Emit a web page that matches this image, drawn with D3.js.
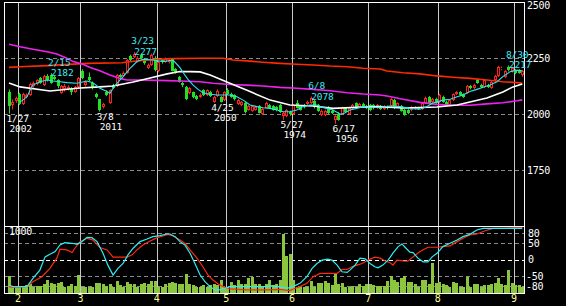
<!DOCTYPE html>
<html>
<head>
<meta charset="utf-8">
<script src="https://cdn.jsdelivr.net/npm/d3@7"></script>
<style>
  html, body { margin: 0; padding: 0; background: #000; }
  svg { display: block; }
  text { font-family: "DejaVu Sans Mono", monospace; font-size: 10px; letter-spacing: -0.3px; }
  text.note { font-size: 9.5px; letter-spacing: -0.1px; }
</style>
</head>
<body>
<div id="chart"></div>
<script>
// daily candles, 2022/1/27 .. 2022/9/5 (trading day index 0..148)
const opens = [2100,2040,2060,2090,2045,2075,2085,2125,2135,2160,2130,2170,2175,2165,2150,2095,2110,2110,2115,2100,2120,2190,2130,2165,2140,2090,2065,2030,2100,2050,2130,2125,2175,2170,2185,2260,2255,2235,2262,2245,2205,2220,2250,2190,2240,2232,2230,2245,2200,2165,2140,2120,2094,2098,2080,2077,2107,2085,2098,2052,2080,2075,2062,2105,2090,2083,2045,2040,2050,2020,2015,2020,2035,2000,2028,2040,2035,2030,2040,1990,1990,2010,1998,2050,2035,2040,2045,2050,2060,2040,1995,1995,2030,2015,1975,2002,2000,2025,2000,2028,2048,2032,2045,2035,2040,2040,2028,2035,2022,2032,2035,2062,2032,2035,2018,2018,2018,2022,2025,2022,2050,2075,2055,2067,2052,2077,2055,2040,2062,2090,2098,2088,2094,2125,2116,2150,2130,2120,2130,2118,2150,2168,2200,2165,2212,2190,2196,2196,2172]
const highs = [2110,2065,2078,2095,2095,2092,2140,2145,2155,2165,2175,2178,2182,2170,2155,2130,2135,2128,2120,2125,2165,2200,2150,2185,2145,2095,2068,2050,2105,2110,2135,2178,2180,2190,2245,2265,2277,2258,2268,2250,2225,2270,2258,2240,2245,2252,2250,2250,2205,2170,2145,2125,2120,2100,2085,2092,2110,2110,2104,2080,2110,2080,2102,2115,2095,2088,2068,2058,2055,2040,2040,2036,2040,2026,2055,2045,2040,2035,2045,2010,2022,2015,2045,2062,2040,2045,2060,2078,2065,2045,2020,2020,2035,2020,1995,2008,2032,2030,2032,2045,2052,2050,2050,2040,2045,2045,2045,2040,2040,2038,2072,2068,2052,2040,2022,2022,2035,2035,2032,2052,2078,2080,2072,2072,2090,2082,2060,2066,2092,2102,2102,2092,2130,2130,2135,2158,2135,2155,2135,2148,2175,2215,2212,2196,2217,2210,2200,2200,2195]
const lows = [2002,2020,2050,2040,2040,2070,2080,2118,2128,2135,2125,2145,2135,2150,2115,2090,2100,2105,2085,2095,2115,2155,2122,2145,2110,2070,2011,2025,2080,2045,2112,2120,2158,2165,2180,2235,2250,2230,2245,2220,2200,2215,2190,2185,2225,2228,2225,2190,2180,2140,2120,2062,2088,2070,2062,2072,2080,2080,2076,2050,2075,2052,2058,2085,2072,2060,2040,2035,2003,2015,2010,2015,2002,1995,2025,2022,2015,2012,2005,1974,1985,1992,1995,2025,2015,2025,2040,2045,2025,2010,1990,1990,2000,2000,1956,1970,1995,2005,1995,2022,2025,2028,2028,2022,2012,2020,2022,2018,2018,2020,2030,2022,2028,2010,1992,2000,2012,2018,2018,2018,2045,2042,2050,2045,2048,2050,2035,2035,2058,2085,2080,2072,2090,2110,2112,2135,2115,2115,2116,2112,2145,2165,2195,2160,2190,2185,2178,2180,2166]
const closes = [2035,2055,2070,2045,2090,2085,2135,2138,2150,2140,2170,2150,2140,2155,2125,2125,2125,2120,2100,2120,2160,2160,2145,2150,2120,2075,2018,2045,2085,2105,2118,2172,2165,2182,2240,2240,2268,2250,2250,2228,2218,2265,2196,2230,2230,2245,2242,2193,2185,2145,2130,2068,2115,2076,2068,2085,2085,2105,2080,2075,2102,2055,2097,2090,2077,2066,2062,2052,2008,2035,2035,2030,2005,2022,2050,2027,2020,2018,2010,2005,2018,1998,2040,2028,2020,2030,2055,2070,2030,2015,2015,2015,2005,2005,1990,1975,2028,2010,2028,2040,2030,2045,2032,2028,2020,2025,2040,2022,2035,2026,2067,2027,2048,2015,1996,2005,2030,2030,2022,2048,2072,2048,2067,2050,2085,2055,2040,2062,2088,2098,2085,2077,2125,2116,2129,2138,2120,2150,2120,2143,2170,2208,2204,2190,2195,2205,2183,2185,2190]
const volumes = [283,117,117,106,117,133,150,106,117,117,150,217,172,150,161,183,106,117,150,117,300,106,106,106,106,172,172,150,117,150,106,206,133,106,189,150,150,106,150,161,150,206,206,106,106,150,161,189,172,150,150,317,150,133,106,94,133,106,133,150,133,217,106,106,189,133,217,150,150,256,261,150,150,106,150,217,133,150,217,983,617,650,217,106,106,106,106,206,106,161,161,206,161,133,328,150,161,106,106,117,106,150,117,150,150,133,117,117,117,206,283,217,189,244,283,183,183,150,106,217,217,150,494,172,189,150,133,94,189,172,106,106,272,106,150,150,106,133,133,150,172,244,150,133,383,161,133,133,106]

// moving averages: [day index, price]
const ma5 = [[3.2,2055],[4,2062],[5.2,2077],[6.1,2107],[6.9,2129],[8.9,2144],[11,2152],[12.7,2147],[14.7,2144],[16.7,2140],[19.6,2137],[22.5,2147],[24.2,2140],[26.2,2115],[28.3,2100],[29.1,2092],[30,2115],[31.1,2137],[32.9,2167],[34.9,2204],[36.9,2234],[38.6,2244],[41.5,2241],[44.4,2234],[47.3,2241],[49.3,2207],[50.2,2185],[51.6,2155],[53.1,2129],[54.5,2110],[55.9,2095],[58,2088],[60,2085],[61.7,2085],[63.7,2085],[65.7,2077],[67.5,2062],[69.5,2040],[71.5,2033],[73.2,2028],[75.3,2025],[77.3,2018],[79,2010],[81,2010],[83,2018],[84.8,2033],[86.8,2040],[88.8,2040],[89.7,2033],[91.7,2025],[93.4,2018],[95.4,2000],[96.3,2000],[98.3,2018],[100.3,2025],[102.1,2033],[104.1,2030],[107,2030],[109.9,2036],[112.7,2033],[115.6,2025],[118.5,2021],[120.5,2033],[122,2048],[123.4,2055],[125.1,2062],[127.2,2066],[129.2,2077],[130.9,2085],[132.9,2100],[134.9,2110],[136.7,2119],[138.7,2129],[140.7,2144],[142.4,2167],[144.5,2189],[146.5,2196],[148,2193]]
const ma25 = [[0,2138],[3.2,2121],[11.8,2103],[20.5,2116],[26.2,2121],[30,2125],[35.8,2143],[40.7,2161],[45.6,2179],[49.3,2190],[52.2,2189],[55.1,2188],[58,2174],[63.7,2137],[69.5,2100],[75.3,2062],[81,2040],[87.7,2036],[93.4,2025],[100.3,2030],[107,2033],[113.6,2027],[123.4,2031],[129.2,2040],[132.9,2054],[137.8,2071],[142.4,2098],[145.3,2121],[148,2134]]
const ma75 = [[0,2311],[3.2,2300],[6.9,2289],[11,2278],[13.8,2268],[16.7,2249],[18.5,2234],[21.3,2222],[23.4,2208],[26.2,2193],[29.1,2174],[32,2159],[34,2152],[37.8,2152],[45.6,2149],[49.3,2147],[55.1,2144],[58.8,2137],[63.7,2132],[68.6,2129],[73.2,2125],[78.1,2119],[83,2115],[87.7,2110],[92.6,2104],[97.5,2095],[102.1,2089],[107,2085],[109,2080],[113.6,2066],[118.5,2052],[123.4,2043],[128,2039],[132.9,2039],[137.8,2045],[142.4,2050],[146.5,2059],[148,2063]]
const ma200 = [[0,2208],[3.2,2211],[11,2216],[22.5,2226],[32.6,2229],[34,2232],[39.8,2241],[47.3,2247],[55.1,2249],[61.7,2249],[64.6,2241],[68.6,2237],[73.2,2231],[78.1,2226],[83,2222],[87.7,2219],[92.6,2214],[97.5,2211],[102.1,2204],[107,2201],[109,2192],[113.6,2184],[118.5,2179],[123.4,2170],[128,2164],[132.9,2159],[137.8,2152],[142.4,2144],[146.5,2140],[148,2137]]

// RCI lines: [day index, value]
const rciShort = [[0,-77],[1.2,-82],[5.2,-82],[6.9,-57],[8.9,-32],[10.4,8],[11.8,16],[13.3,24],[14.7,44],[16.1,51],[18.2,49],[19.6,46],[21,54],[22.5,67],[23.9,66],[25.4,54],[27.1,19],[28.5,-17],[30,-47],[31.4,-27],[32.9,-12],[34.3,14],[35.8,34],[37.8,54],[39.8,62],[41.5,69],[43.5,72],[45.6,77],[46.4,77],[47.9,69],[49.3,54],[50.7,44],[52.2,19],[53.6,-12],[55.1,-47],[56.5,-67],[58,-82],[59.4,-92],[60.8,-92],[62.3,-87],[63.7,-82],[68.6,-82],[74.4,-82],[75.3,-79],[77.3,-82],[78.7,-84],[80.2,-87],[81.9,-82],[83.9,-72],[85.9,-52],[87.4,-27],[88.8,-12],[90.3,-2],[91.9,1],[93.1,-2],[94.6,-17],[96,-37],[97.5,-39],[98.3,-32],[99.8,-17],[101.2,4],[102.7,2],[104.1,-12],[105.5,-22],[106.4,-25],[107.8,-17],[109.3,-2],[110.7,19],[112.2,39],[113.3,47],[114.2,37],[115.6,22],[116.5,21],[117.9,4],[119.4,-7],[120.8,-7],[122,8],[123.4,19],[124.3,29],[125.1,39],[127.2,49],[129.2,59],[130.9,69],[132.9,76],[134.9,89],[136.7,94],[148,94]]
const rciLong = [[0,-82],[1.2,-84],[5.2,-82],[6.9,-67],[9.5,-52],[11.8,-27],[13.8,4],[14.7,31],[16.7,29],[18.2,21],[19,34],[20.5,54],[22.5,64],[24.2,59],[26.2,36],[28.3,29],[30,7],[34,7],[35.5,14],[36.9,29],[38.6,44],[40.7,56],[42.7,66],[44.4,71],[45.8,76],[47.3,71],[49.3,59],[50.7,49],[52.2,29],[54.2,4],[55.9,-22],[57.4,-47],[58.8,-62],[60.3,-74],[61.7,-82],[63.7,-89],[68.6,-92],[74.4,-92],[78.1,-90],[81,-94],[82.5,-87],[83.9,-82],[85.9,-72],[87.7,-52],[89.7,-42],[94.6,-42],[96,-30],[97.5,-30],[98.9,-22],[100.3,-17],[101.8,-12],[103.2,-4],[104.1,1],[105.5,7],[107,4],[108.4,-4],[109.9,-10],[110.7,-17],[111.9,-2],[113.6,-4],[115,-5],[116.5,8],[118.5,24],[120.8,37],[123.4,37],[125.1,39],[127.2,41],[129.2,54],[130.9,64],[132.9,74],[134.9,77],[137.3,87],[139.6,94],[142.4,94],[148,96]]

// month starts (day index) and their labels
const monthStarts = [3, 21, 43, 63, 82, 104, 124, 146]
const monthLabels = ['2', '3', '4', '5', '6', '7', '8', '9']

// annotated highs and lows
const highDates = ['2/15', '3/23', '6/8', '8/30']
const highIdx = [12, 36, 87, 144]
const highVals = [2182, 2277, 2078, 2217]
const lowDates = ['1/27', '3/8', '4/25', '5/27', '6/17']
const lowIdx = [0, 26, 59, 79, 94]
const lowVals = [2002, 2011, 2050, 1974, 1956]

const priceLabels = [2500, 2250, 2000, 1750]
const priceGrid = [2250, 2000, 1750]
const rciLabels = [80, 50, 0, -50, -80]

const width = 566
const height = 306
const left = 4
const right = 524
const mainTop = 2
const mainBottom = 226
const subBottom = 293

const svg = d3
  .select('#chart')
  .append('svg')
  .attr('width', width)
  .attr('height', height)
  .style('background', '#000')

const xPositionScale = d3.scaleLinear().domain([0, 148]).range([9, 522.3])
const priceScale = d3.scaleLinear().domain([1500, 2500]).range([mainBottom, mainTop])
const rciScale = d3.scaleLinear().domain([-100, 100]).range([292.6, 226.4])
const volumeScale = d3.scaleLinear().domain([0, 1000]).range([subBottom, 233])

const px = v => Math.round(v) + 0.5

const defs = svg.append('defs')
defs.append('clipPath').attr('id', 'clipMain')
  .append('rect').attr('x', left).attr('y', mainTop).attr('width', right - left).attr('height', mainBottom - mainTop)
defs.append('clipPath').attr('id', 'clipSub')
  .append('rect').attr('x', left).attr('y', mainBottom).attr('width', right - left).attr('height', subBottom - mainBottom)

// horizontal grid
svg.selectAll('.price-grid')
  .data(priceGrid)
  .enter()
  .append('line')
  .attr('x1', left).attr('x2', right)
  .attr('y1', d => px(priceScale(d))).attr('y2', d => px(priceScale(d)))
  .attr('stroke', '#8a8a8a')
  .attr('stroke-dasharray', '4,3')

svg.selectAll('.rci-grid')
  .data(rciLabels)
  .enter()
  .append('line')
  .attr('x1', left).attr('x2', right)
  .attr('y1', d => px(rciScale(d))).attr('y2', d => px(rciScale(d)))
  .attr('stroke', d => (d === 0 ? '#ffffff' : '#8a8a8a'))
  .attr('stroke-dasharray', '4,3')

// month grid
svg.selectAll('.month-grid')
  .data(monthStarts)
  .enter()
  .append('line')
  .attr('x1', d => px(xPositionScale(d) - 1.5)).attr('x2', d => px(xPositionScale(d) - 1.5))
  .attr('y1', mainTop).attr('y2', subBottom)
  .attr('stroke', '#c8c8c8')

svg.selectAll('.month-label')
  .data(monthStarts)
  .enter()
  .append('text')
  .attr('x', d => xPositionScale(d) - 1.5)
  .attr('y', 302)
  .attr('text-anchor', 'middle')
  .attr('fill', '#ffff99')
  .text((d, i) => monthLabels[i])

// volume bars
const days = d3.range(opens.length).map(i => ({
  i, o: opens[i], h: highs[i], l: lows[i], c: closes[i], v: volumes[i]
}))

const sub = svg.append('g').attr('clip-path', 'url(#clipSub)')
sub.selectAll('.volume')
  .data(days)
  .enter()
  .append('rect')
  .attr('x', d => Math.round(xPositionScale(d.i)) - 1)
  .attr('width', 3)
  .attr('y', d => Math.round(volumeScale(d.v)))
  .attr('height', d => subBottom - Math.round(volumeScale(d.v)))
  .attr('fill', '#8cc63f')

const rciLine = d3.line().x(d => xPositionScale(d[0])).y(d => rciScale(d[1]))
sub.append('path').attr('d', rciLine(rciLong)).attr('fill', 'none').attr('stroke', '#ff2a10').attr('stroke-width', 1.2)
sub.append('path').attr('d', rciLine(rciShort)).attr('fill', 'none').attr('stroke', '#30ecf4').attr('stroke-width', 1.2)

// candles
const main = svg.append('g').attr('clip-path', 'url(#clipMain)')
const candle = main.selectAll('.candle')
  .data(days)
  .enter()
  .append('g')
  .attr('class', 'candle')

candle.each(function (d) {
  const g = d3.select(this)
  const n = Math.round(xPositionScale(d.i))
  const up = d.c >= d.o
  const color = up ? '#ff2020' : '#22e022'
  const top = Math.round(priceScale(Math.max(d.o, d.c)))
  const bottom = Math.round(priceScale(Math.min(d.o, d.c)))
  g.append('line')
    .attr('x1', n + 0.5).attr('x2', n + 0.5)
    .attr('y1', priceScale(d.h)).attr('y2', top)
    .attr('stroke', color)
  g.append('line')
    .attr('x1', n + 0.5).attr('x2', n + 0.5)
    .attr('y1', bottom).attr('y2', priceScale(d.l))
    .attr('stroke', color)
  if (up) {
    g.append('rect')
      .attr('x', n - 0.5).attr('width', 2)
      .attr('y', top + 0.5).attr('height', Math.max(bottom - top - 1, 0))
      .attr('fill', '#000')
      .attr('stroke', color)
  } else {
    g.append('rect')
      .attr('x', n - 1).attr('width', 3)
      .attr('y', top).attr('height', Math.max(bottom - top, 1))
      .attr('fill', color)
  }
})

// moving averages
const maLine = d3.line().x(d => xPositionScale(d[0])).y(d => priceScale(d[1]))
main.append('path').attr('d', maLine(ma200)).attr('fill', 'none').attr('stroke', '#ff2a00').attr('stroke-width', 1.6)
main.append('path').attr('d', maLine(ma75)).attr('fill', 'none').attr('stroke', '#ee22ee').attr('stroke-width', 1.6)
main.append('path').attr('d', maLine(ma25)).attr('fill', 'none').attr('stroke', '#ffffff').attr('stroke-width', 1.6)
main.append('path').attr('d', maLine(ma5)).attr('fill', 'none').attr('stroke', '#30e4f0').attr('stroke-width', 1.1)

// frame
const frame = svg.append('g').attr('stroke', '#ffffff').attr('fill', 'none')
frame.append('rect').attr('x', left + 0.5).attr('y', mainTop + 0.5).attr('width', right - left).attr('height', subBottom - mainTop)
frame.append('line').attr('x1', left).attr('x2', right + 1).attr('y1', mainBottom + 0.5).attr('y2', mainBottom + 0.5)

// right axis labels
svg.selectAll('.price-label')
  .data(priceLabels)
  .enter()
  .append('text')
  .attr('x', 527)
  .attr('y', d => Math.max(priceScale(d) + 3.8, 9))
  .attr('fill', '#ffffff')
  .text(d => d)

svg.selectAll('.rci-label')
  .data(rciLabels)
  .enter()
  .append('text')
  .attr('x', d => (d < 0 ? 526 : 528))
  .attr('y', d => rciScale(d) + 3.8)
  .attr('fill', '#ffffff')
  .text(d => d)

svg.append('text').attr('x', 9).attr('y', 234.8).attr('fill', '#ffffff').text('1000')

// high / low annotations
highDates.forEach((label, k) => {
  const x = xPositionScale(highIdx[k]) - 2.5
  const y = priceScale(highVals[k])
  svg.append('text').attr('class', 'note').attr('x', x).attr('y', y - 7.5).attr('fill', '#40e8f0').text(label)
  svg.append('text').attr('class', 'note').attr('x', x + 3).attr('y', y + 3).attr('fill', '#40e8f0').text(highVals[k])
})

lowDates.forEach((label, k) => {
  const x = xPositionScale(lowIdx[k]) - 2.5
  const y = priceScale(lowVals[k])
  svg.append('text').attr('class', 'note').attr('x', x).attr('y', y + 8).attr('fill', '#ffffff').text(label)
  svg.append('text').attr('class', 'note').attr('x', x + 3).attr('y', y + 18.5).attr('fill', '#ffffff').text(lowVals[k])
})
</script>
</body>
</html>
